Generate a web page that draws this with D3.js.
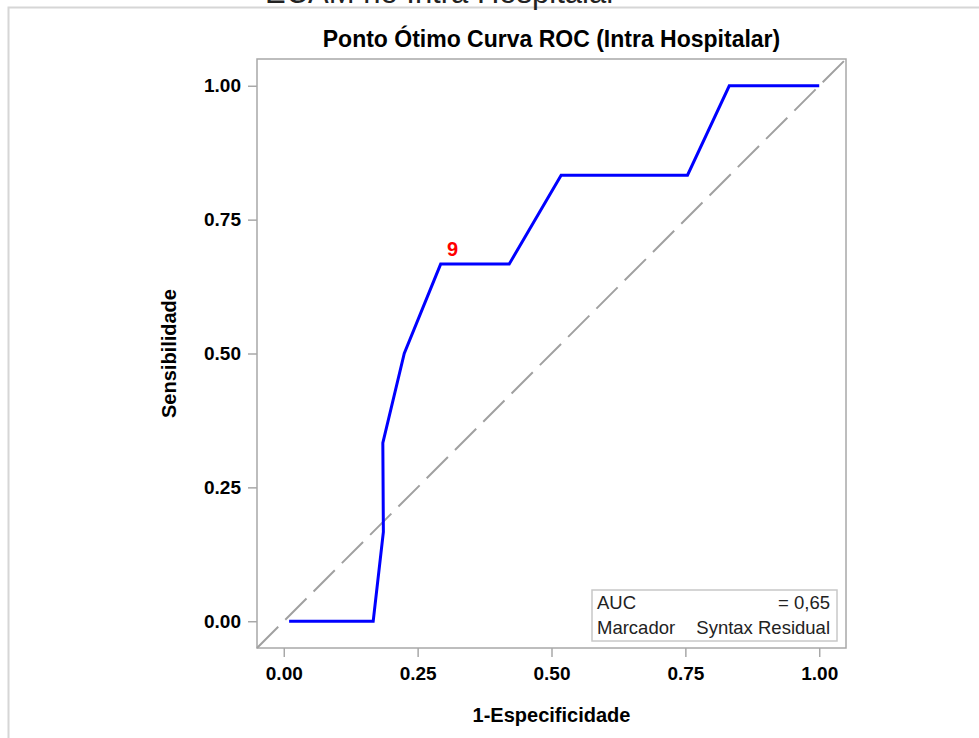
<!DOCTYPE html>
<html>
<head>
<meta charset="utf-8">
<script src="https://cdn.jsdelivr.net/npm/d3@7"></script>
<style>
  body { margin: 0; background: #fff; }
  svg { display: block; }
</style>
</head>
<body>
<div id="chart"></div>
<script>
// ROC curve points (1-Especificidade, Sensibilidade)
const fpr = [0.01, 0.167, 0.186, 0.185, 0.225, 0.293, 0.421, 0.518, 0.754, 0.832, 1.0];
const tpr = [0, 0, 0.167, 0.333, 0.5, 0.667, 0.667, 0.833, 0.833, 1.0, 1.0];
const xTicks = [0, 0.25, 0.5, 0.75, 1];
const yTicks = [0, 0.25, 0.5, 0.75, 1];
const optimalIndex = 5;
const optimalLabel = "9";
const legendLeft = ["AUC", "Marcador"];
const legendRight = ["= 0,65", "Syntax Residual"];

const width = 979, height = 738;
const margin = { top: 59, right: 133, bottom: 90, left: 257 };
const plotW = width - margin.left - margin.right;
const plotH = height - margin.top - margin.bottom;
const sans = "'Liberation Sans', Arial, sans-serif";

const root = d3.select("#chart")
  .append("svg")
  .attr("width", width)
  .attr("height", height);

// page border the chart image sits in
root.append("path")
  .attr("d", "M8.5," + height + "V7.5H" + width)
  .attr("fill", "none")
  .attr("stroke", "#d6d6d6")
  .attr("stroke-width", 2);

// caption cut off at the top
root.append("text")
  .attr("x", 265)
  .attr("y", 3)
  .attr("font-family", sans)
  .attr("font-size", "31px")
  .attr("fill", "#222")
  .text("ECAM no Intra Hospitalar");

root.append("text")
  .attr("x", margin.left + plotW / 2)
  .attr("y", 47)
  .attr("text-anchor", "middle")
  .attr("font-family", sans)
  .attr("font-weight", "bold")
  .attr("font-size", "23px")
  .attr("fill", "#000")
  .text("Ponto Ótimo Curva ROC (Intra Hospitalar)");

const svg = root.append("g")
  .attr("transform", "translate(" + margin.left + "," + margin.top + ")");

const x = d3.scaleLinear().domain([-0.05, 1.05]).range([0, plotW]);
const y = d3.scaleLinear().domain([-0.05, 1.05]).range([plotH, 0]);

const fmt = d3.format(".2f");

const xAxis = svg.append("g")
  .attr("transform", "translate(0," + plotH + ")")
  .call(d3.axisBottom(x).tickValues(xTicks).tickFormat(fmt).tickSize(9).tickPadding(10));
const yAxis = svg.append("g")
  .call(d3.axisLeft(y).tickValues(yTicks).tickFormat(fmt).tickSize(9).tickPadding(7));

[xAxis, yAxis].forEach(function(ax) {
  ax.select(".domain").remove();
  ax.selectAll(".tick line").attr("stroke", "#a8a8a8").attr("stroke-width", 1.5);
  ax.selectAll(".tick text")
    .attr("fill", "#000")
    .attr("font-family", sans)
    .attr("font-weight", "bold")
    .attr("font-size", "19px");
});

// frame
svg.append("rect")
  .attr("width", plotW)
  .attr("height", plotH)
  .attr("fill", "none")
  .attr("stroke", "#a8a8a8")
  .attr("stroke-width", 1.5);

// chance diagonal
svg.append("line")
  .attr("x1", x(-0.05)).attr("y1", y(-0.05))
  .attr("x2", x(1.05)).attr("y2", y(1.05))
  .attr("stroke", "#a0a0a0")
  .attr("stroke-width", 2)
  .attr("stroke-dasharray", "30,10");

const data = fpr.map(function(d, i) { return { fpr: d, tpr: tpr[i] }; });

svg.append("path")
  .datum(data)
  .attr("fill", "none")
  .attr("stroke", "#0000ff")
  .attr("stroke-width", 3)
  .attr("d", d3.line()
    .x(function(d) { return x(d.fpr); })
    .y(function(d) { return y(d.tpr); }));

svg.append("text")
  .attr("x", x(data[optimalIndex].fpr) + 12)
  .attr("y", y(data[optimalIndex].tpr) - 8)
  .attr("text-anchor", "middle")
  .attr("font-family", sans)
  .attr("font-weight", "bold")
  .attr("font-size", "20px")
  .attr("fill", "#ff0000")
  .text(optimalLabel);

// legend box (inset)
const lg = svg.append("g")
  .attr("transform", "translate(" + (plotW - 254) + "," + (plotH - 58) + ")");
lg.append("rect")
  .attr("width", 245)
  .attr("height", 51)
  .attr("fill", "#fff")
  .attr("stroke", "#c8c8c8")
  .attr("stroke-width", 1.5);
lg.selectAll(".lleft")
  .data(legendLeft)
  .join("text")
  .attr("x", 5)
  .attr("y", function(d, i) { return 19 + i * 25; })
  .attr("font-family", sans)
  .attr("font-size", "18.5px")
  .attr("fill", "#222")
  .text(function(d) { return d; });
lg.selectAll(".lright")
  .data(legendRight)
  .join("text")
  .attr("x", 238)
  .attr("y", function(d, i) { return 19 + i * 25; })
  .attr("text-anchor", "end")
  .attr("font-family", sans)
  .attr("font-size", "18.5px")
  .attr("fill", "#222")
  .text(function(d) { return d; });

// axis titles
root.append("text")
  .attr("x", margin.left + plotW / 2)
  .attr("y", 722)
  .attr("text-anchor", "middle")
  .attr("font-family", sans)
  .attr("font-weight", "bold")
  .attr("font-size", "20px")
  .attr("fill", "#000")
  .text("1-Especificidade");

root.append("text")
  .attr("transform", "translate(176," + (margin.top + plotH / 2) + ") rotate(-90)")
  .attr("text-anchor", "middle")
  .attr("font-family", sans)
  .attr("font-weight", "bold")
  .attr("font-size", "20px")
  .attr("fill", "#000")
  .text("Sensibilidade");
</script>
</body>
</html>
